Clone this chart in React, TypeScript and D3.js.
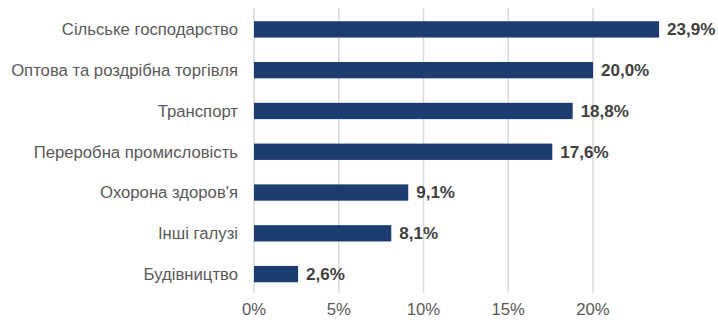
import React from "react";
import * as d3 from "d3";

const categories = [
  "Сільське господарство",
  "Оптова та роздрібна торгівля",
  "Транспорт",
  "Переробна промисловість",
  "Охорона здоров'я",
  "Інші галузі",
  "Будівництво",
];
const values = [23.9, 20.0, 18.8, 17.6, 9.1, 8.1, 2.6];
const ticks = [0, 5, 10, 15, 20];

const W = 718;
const H = 320;
const left = 254;
const font = "'Liberation Sans', Arial, sans-serif";

export default function App() {
  const x = d3.scaleLinear().domain([0, 20]).range([left, left + 339]);
  const y = d3
    .scaleBand<string>()
    .domain(categories)
    .range([9, 294.5])
    .paddingInner(0.6)
    .paddingOuter(0.3);
  const fmt = (v: number) => v.toFixed(1).replace(".", ",") + "%";
  return (
    <svg
      width={W}
      height={H}
      style={{ position: "absolute", left: 0, top: 0, background: "#fff" }}
    >
      {ticks.map((t) => (
        <line
          key={t}
          x1={x(t)}
          x2={x(t)}
          y1={8}
          y2={293}
          stroke="#d9d9d9"
          strokeWidth={1.5}
        />
      ))}
      {categories.map((c, i) => (
        <g key={c}>
          <rect
            x={x(0)}
            y={y(c)!}
            width={x(values[i]) - x(0)}
            height={y.bandwidth()}
            fill="#1b3d6f"
          />
          <text
            x={left - 16}
            y={y(c)! + y.bandwidth() / 2}
            dy="0.35em"
            textAnchor="end"
            fontFamily={font}
            fontSize={16.7}
            fill="#595959"
          >
            {c}
          </text>
          <text
            x={x(values[i]) + 8}
            y={y(c)! + y.bandwidth() / 2}
            dy="0.35em"
            fontFamily={font}
            fontSize={17}
            fontWeight="bold"
            fill="#404040"
          >
            {fmt(values[i])}
          </text>
        </g>
      ))}
      {ticks.map((t) => (
        <text
          key={t}
          x={x(t)}
          y={315}
          textAnchor="middle"
          fontFamily={font}
          fontSize={16.7}
          fill="#595959"
        >
          {t + "%"}
        </text>
      ))}
    </svg>
  );
}
